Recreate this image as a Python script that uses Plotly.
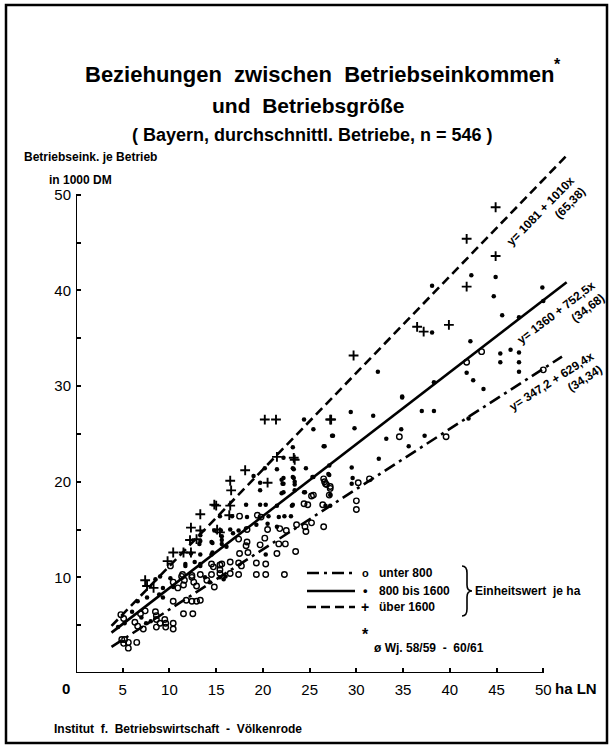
import math
import plotly.graph_objects as go

# ---------------- data ----------------
unter800_x = [50.0, 43.4, 41.8, 34.6, 39.6, 26.5, 26.7, 27.2, 30.2, 31.4, 25.2, 24.4, 24.8, 26.6, 26.8, 27.2,
              25.4, 27.1, 26.4, 17.5, 19.4, 19.8, 23.6, 24.5, 25.2, 24.6, 26.5, 18.3, 20.5, 21.8, 22.5, 17.4,
              20.2, 18.3, 18.2, 19.7, 21.7, 22.4, 23.5, 21.5, 17.5, 18.4, 14.5, 15.6, 16.5, 17.4, 17.7, 19.3,
              20.3, 14.5, 15.4, 16.5, 17.4, 19.3, 20.3, 22.3, 11.4, 12.4, 13.3, 10.1, 14.7, 15.4, 15.4, 11.3,
              11.6, 11.5, 12.4, 12.6, 12.9, 10.4, 10.9, 11.8, 12.4, 12.9, 13.3, 10.4, 11.5, 12.5, 4.8, 5.1,
              6.9, 7.4, 8.5, 8.6, 8.6, 8.6, 9.0, 9.5, 9.6, 9.6, 10.4, 10.4, 4.9, 5.2, 5.6, 5.1, 5.6, 6.5,
              30.0, 30.0, 6.3, 6.6, 7.2, 14.0, 14.8]
unter800_y = [31.7, 33.6, 32.5, 24.7, 24.7, 20.3, 19.8, 19.5, 19.9, 20.3, 18.5, 17.7, 17.6, 20.0, 19.7, 19.3,
              18.6, 18.6, 17.6, 16.4, 16.5, 16.3, 15.5, 15.3, 15.7, 14.8, 15.3, 15.0, 15.0, 15.1, 14.9, 14.0,
              14.1, 13.7, 13.3, 13.4, 13.5, 13.5, 12.7, 12.5, 12.5, 12.6, 11.4, 11.4, 11.6, 11.5, 11.2, 11.5,
              11.4, 10.3, 10.4, 10.4, 10.3, 10.3, 10.3, 10.3, 10.3, 10.2, 10.3, 11.2, 11.1, 11.3, 10.8, 10.1,
              9.7, 9.2, 10.0, 9.5, 9.1, 9.5, 8.9, 7.6, 7.5, 7.5, 7.6, 7.5, 6.2, 6.2, 6.1, 5.7,
              6.2, 6.5, 6.4, 6.0, 5.6, 4.8, 5.2, 5.6, 5.2, 4.8, 5.2, 4.6, 3.5, 3.5, 3.2, 3.1, 2.6, 3.2,
              18.0, 17.1, 5.3, 4.9, 4.6, 9.7, 9.0]

mittel_x = [38.1, 42.3, 44.9, 44.7, 45.6, 49.9, 50.0, 47.4, 38.1, 42.2, 45.4, 46.5, 47.4, 45.4, 47.4, 47.4,
            41.8, 42.5, 43.6, 38.3, 34.9, 37.0, 38.3, 42.0, 32.3, 24.4, 29.4, 31.8, 25.4, 29.8, 27.4, 33.2,
            34.8, 37.3, 35.6, 23.2, 26.5, 22.2, 32.4, 23.3, 24.6, 27.1, 29.5, 25.4, 27.1, 22.2, 22.2, 23.3,
            29.6, 29.5, 23.4, 24.5, 27.2, 22.0, 23.1, 26.7, 27.2, 27.5, 26.6, 20.2, 21.5, 23.2, 23.2, 19.7,
            22.0, 22.1, 23.4, 25.3, 27.0, 19.7, 22.2, 23.4, 24.4, 18.2, 19.7, 20.3, 21.5, 23.2, 15.4, 16.7,
            18.3, 20.6, 21.7, 22.3, 23.0, 13.3, 16.5, 16.8, 17.4, 19.3, 20.5, 21.5, 15.6, 13.2, 14.6, 15.6,
            16.1, 20.3, 12.3, 13.3, 14.5, 11.7, 13.3, 14.8, 15.5, 13.3, 14.5, 15.6, 14.6, 11.7, 12.7, 13.3,
            8.5, 9.0, 10.1, 9.3, 10.4, 8.9, 9.3, 6.6, 7.6, 6.0, 4.5, 5.2, 7.0, 7.5, 8.0, 13.8, 14.3, 15.4,
            15.8, 16.0, 34.9, 19.0]
mittel_y = [40.5, 41.6, 41.4, 39.4, 37.4, 40.3, 38.9, 37.2, 35.6, 34.7, 33.4, 33.8, 33.5, 32.5, 32.5, 31.5,
            31.4, 30.6, 29.7, 30.4, 28.8, 27.4, 27.4, 26.6, 31.5, 26.5, 27.3, 26.9, 25.5, 25.6, 24.8, 24.5,
            25.5, 24.8, 23.7, 23.6, 23.7, 22.5, 22.4, 21.3, 21.4, 21.7, 21.5, 20.5, 20.7, 20.4, 19.8, 20.4,
            20.4, 19.8, 19.7, 18.9, 18.6, 18.8, 17.5, 17.5, 17.5, 24.8, 23.7, 21.4, 21.3, 21.4, 20.5, 19.9,
            20.2, 19.8, 20.0, 20.5, 20.8, 19.1, 18.9, 19.1, 18.9, 17.6, 17.6, 17.6, 17.5, 17.6, 16.4, 16.4,
            16.3, 16.4, 16.3, 16.4, 16.4, 14.4, 15.0, 14.6, 14.9, 15.5, 15.6, 15.3, 14.3, 13.5, 13.6, 13.5,
            13.2, 12.4, 12.5, 12.4, 12.4, 11.4, 11.4, 14.9, 14.9, 13.8, 13.7, 13.9, 12.6, 11.2, 11.6, 11.2,
            9.8, 10.1, 9.9, 8.9, 9.0, 8.2, 7.9, 7.5, 7.9, 6.4, 4.8, 5.2, 5.8, 5.2, 5.4, 10.0, 9.5, 10.0,
            9.8, 10.1, 28.9, 20.6]

ueber1600_x = [44.9, 41.8, 44.9, 41.8, 36.5, 37.2, 39.9, 29.7, 27.2, 20.2, 21.4, 27.3, 23.3, 21.5, 23.4, 18.1,
               16.5, 20.5, 16.6, 15.0, 16.5, 14.8, 13.3, 16.4, 12.3, 13.3, 15.1, 15.4, 12.2, 12.9, 10.4, 11.5,
               12.3, 9.8, 7.4, 7.6, 8.3]
ueber1600_y = [48.7, 45.4, 43.6, 40.4, 36.2, 35.7, 36.4, 33.2, 26.5, 26.5, 26.5, 26.5, 22.5, 22.6, 22.3, 21.2,
               20.1, 19.9, 19.1, 17.5, 17.5, 17.6, 16.6, 16.5, 15.2, 14.9, 15.0, 14.7, 13.9, 14.0, 12.6, 12.6,
               12.6, 11.7, 9.7, 9.1, 8.9]

# regression lines printed on the chart: y[DM] = a + b * x[ha]
group_names = ["unter 800", "800 bis 1600", "über 1600"]
reg_a = [347.2, 1360.0, 1081.0]
reg_b = [629.4, 752.5, 1010.0]
reg_x_from = [3.8, 3.8, 3.8]
reg_x_to = [52.0, 52.5, 52.5]
reg_labels = ["y= 347,2 + 629,4x", "y= 1360 + 752,5x", "y= 1081 + 1010x"]
reg_sd = ["(34,34)", "(34,68)", "(65,38)"]

x_ticks = [5, 10, 15, 20, 25, 30, 35, 40, 45, 50]
y_ticks = [5, 10, 15, 20, 25, 30, 35, 40, 45, 50]

# ---------------- geometry helpers ----------------
W, H = 610, 746
L, R, T, B = 76, 34, 147, 73
XR = [0, 53.5]
YR = [0, 55]
pw, ph = W - L - R, H - T - B

def px(xp):
    return (xp - L) / pw

def py(yp):
    return (H - B - yp) / ph

FONT = "Liberation Sans"
fig = go.Figure()

dashes = ["12px,5px,3px,5px", "solid", "9px,5px"]
for i in range(3):
    xs = [reg_x_from[i], reg_x_to[i]]
    ys = [(reg_a[i] + reg_b[i] * v) / 1000 for v in xs]
    fig.add_trace(go.Scatter(x=xs, y=ys, mode="lines",
                             line=dict(color="black", width=2.6, dash=dashes[i]),
                             showlegend=False, hoverinfo="skip"))

fig.add_trace(go.Scatter(x=unter800_x, y=unter800_y, mode="markers", name=group_names[0],
                         marker=dict(symbol="circle-open", size=5.5, color="black", line=dict(width=1.4, color="black")),
                         showlegend=False))
fig.add_trace(go.Scatter(x=mittel_x, y=mittel_y, mode="markers", name=group_names[1],
                         marker=dict(symbol="circle", size=4.5, color="black"),
                         showlegend=False))
fig.add_trace(go.Scatter(x=ueber1600_x, y=ueber1600_y, mode="markers", name=group_names[2],
                         marker=dict(symbol="cross-thin", size=7, color="black", line=dict(width=1.9, color="black")),
                         showlegend=False))

shapes = []
# axis lines
shapes.append(dict(type="line", xref="x", yref="y", x0=0, y0=0, x1=0, y1=50, line=dict(color="black", width=2)))
shapes.append(dict(type="line", xref="x", yref="y", x0=0, y0=0, x1=50, y1=0, line=dict(color="black", width=2)))
# frame
shapes.append(dict(type="rect", xref="paper", yref="paper", x0=px(6), y0=py(743), x1=px(607), y1=py(5),
                   line=dict(color="black", width=2.5)))
# legend line samples
for i, yp in enumerate([573, 591, 607]):
    shapes.append(dict(type="line", xref="paper", yref="paper", x0=px(307), x1=px(355), y0=py(yp), y1=py(yp),
                       line=dict(color="black", width=2.6, dash=dashes[i])))
# brace
bx, top, mid, bot = 462, 566, 591, 616
path = (f"M {px(bx)},{py(top)} Q {px(bx+5)},{py(top)} {px(bx+5)},{py(top+7)} "
        f"L {px(bx+5)},{py(mid-6)} Q {px(bx+5)},{py(mid)} {px(bx+10)},{py(mid)} "
        f"Q {px(bx+5)},{py(mid)} {px(bx+5)},{py(mid+6)} "
        f"L {px(bx+5)},{py(bot-7)} Q {px(bx+5)},{py(bot)} {px(bx)},{py(bot)}")
shapes.append(dict(type="path", xref="paper", yref="paper", path=path, line=dict(color="black", width=1.6)))

ann = []
def text(xp, yp, s, size, xanchor="center", angle=0, bold=False, align="center"):
    ann.append(dict(x=px(xp), y=py(yp), xref="paper", yref="paper", text=(f"<b>{s}</b>" if bold else s),
                    showarrow=False, xanchor=xanchor, yanchor="middle", textangle=angle, align=align,
                    font=dict(family=FONT, size=size, color="black")))

text(319, 75, "Beziehungen  zwischen  Betriebseinkommen", 22, bold=True)
text(557, 64, "*", 16, bold=True)
text(308, 105, "und  Betriebsgröße", 21, bold=True)
text(312, 135, "( Bayern, durchschnittl. Betriebe, n = 546 )", 18, bold=True)
text(22, 157, "Betriebseink. je Betrieb", 12, xanchor="left", bold=True)
text(47, 180, "in 1000 DM", 12, xanchor="left", bold=True)
text(66, 688, "0", 15, bold=True)
text(553, 688, "ha LN", 15, xanchor="left", bold=True)

# legend texts
text(365, 573, "o", 11, bold=True)
text(365, 590, "•", 13, bold=True)
text(365, 607, "+", 14, bold=True)
text(377, 573, "unter 800", 12, xanchor="left", bold=True)
text(377, 591, "800 bis 1600", 12, xanchor="left", bold=True)
text(377, 607, "über 1600", 12, xanchor="left", bold=True)
text(473, 591, "Einheitswert  je ha", 12, xanchor="left", bold=True)
text(365, 634, "*", 16, bold=True)
text(372, 648, "ø Wj. 58/59  -  60/61", 12, xanchor="left", bold=True)
text(52, 729, "Institut  f.  Betriebswirtschaft  -  Völkenrode", 12, xanchor="left", bold=True)

# regression labels (two-line blocks, second line right-aligned)
lab_pos = [(556, 388), (561, 319), (546, 217)]
for i in range(3):
    ang = -math.degrees(math.atan(reg_b[i] / 1000 * (ph / (YR[1] - YR[0])) / (pw / (XR[1] - XR[0]))))
    text(lab_pos[i][0], lab_pos[i][1], f"{reg_labels[i]}<br>{reg_sd[i]}", 12, angle=ang, bold=True, align="right")

fig.update_layout(
    width=W, height=H, margin=dict(l=L, r=R, t=T, b=B, pad=0),
    paper_bgcolor="white", plot_bgcolor="white",
    shapes=shapes, annotations=ann, showlegend=False,
    xaxis=dict(range=XR, showgrid=False, zeroline=False, showline=False,
               tickmode="array", tickvals=x_ticks, ticktext=[str(v) for v in x_ticks],
               ticks="inside", ticklen=5, tickwidth=1.5, tickcolor="black",
               tickfont=dict(family=FONT, size=15, color="black"), ticklabelstandoff=6),
    yaxis=dict(range=YR, showgrid=False, zeroline=False, showline=False,
               tickmode="array", tickvals=y_ticks, ticktext=[str(v) if v % 10 == 0 else "" for v in y_ticks],
               ticks="inside", ticklen=5, tickwidth=1.5, tickcolor="black",
               tickfont=dict(family=FONT, size=15, color="black"), ticklabelstandoff=4),
    font=dict(family=FONT, color="black"),
)
fig.update_xaxes(tickprefix="<b>", ticksuffix="</b>")
fig.update_yaxes(tickprefix="<b>", ticksuffix="</b>")

fig.write_html("out.html", config={"displayModeBar": False},
               post_script="document.body.style.margin='0';")
